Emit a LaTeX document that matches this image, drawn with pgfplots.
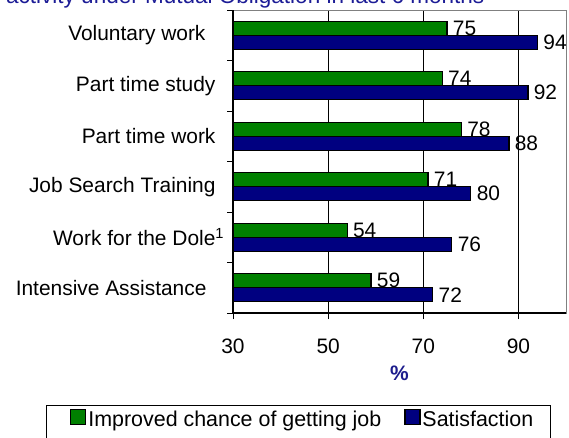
\documentclass[border=0pt]{standalone}
\usepackage{fontspec}
\setmainfont{Liberation Sans}
\usepackage{pgfplots}
\pgfplotsset{compat=1.18}
\definecolor{barG}{RGB}{0,128,0}
\definecolor{barB}{RGB}{0,0,128}
\definecolor{titleblue}{RGB}{28,28,150}
\definecolor{pctblue}{RGB}{28,28,140}
\definecolor{frame}{RGB}{128,128,128}
\begin{document}
\begin{tikzpicture}
\path[use as bounding box] (0,0) rectangle (569bp,438bp);
\clip (0,0) rectangle (569bp,438bp);
\node[anchor=base west, inner sep=0pt, font=\fontsize{22.6}{26}\selectfont, text=titleblue] at (6bp,434bp) {activity under Mutual Obligation in last 6 months};
\begin{axis}[
  at={(233bp,125bp)}, anchor=south west,
  width=333bp, height=303bp, scale only axis,
  xbar,
  xmin=30, xmax=100, ymin=0.5, ymax=6.5,
  xtick={30,50,70,90},
  ytick={1,2,3,4,5,6},
  yticklabels={Intensive Assistance\rule{9bp}{0pt}, Work for the Dole\makebox[0pt][l]{\textsuperscript{1}}, Job Search Training, Part time work, Part time study, Voluntary work\rule{10bp}{0pt}},
  minor ytick={0.5,1.5,2.5,3.5,4.5,5.5,6.5},
  xtick pos=bottom, ytick pos=left,
  tick align=outside,
  major tick length=6bp, minor tick length=6bp,
  every major y tick/.append style={draw=none},
  tick style={black, line width=1bp},
  xmajorgrids, grid style={black, line width=0.9bp},
  axis line style={frame, line width=1bp},
  clip=false,
  /pgf/number format/assume math mode=true,
  tick label style={font=\fontsize{21}{25}\selectfont},
  yticklabel style={xshift=-8bp},
  xticklabel style={yshift=-16bp},
  xlabel={\textbf{\%}},
  xlabel style={at={(axis description cs:0.5,-0.198)}, anchor=center, font=\fontsize{21}{25}\selectfont, text=pctblue},
  bar width=14bp,
  nodes near coords,
  every node near coord/.append style={font=\fontsize{21}{25}\selectfont, black, anchor=west, xshift=2bp},
  legend image code/.code={\draw[#1] (0bp,-5bp) rectangle (15bp,10bp);},
  legend columns=2,
  legend style={draw=none, fill=none, inner sep=0pt, font=\fontsize{21.5}{25}\selectfont,
    at={(axis description cs:-0.4895,-0.352)}, anchor=west,
    /tikz/every even column/.append style={column sep=21bp}},
]
\addplot[draw=black, line width=1.2bp, fill=barG, bar shift=7bp] coordinates {
  (59,1) (54,2) (71,3) (78,4) (74,5) (75,6)};
\addlegendentry{Improved chance of getting job}
\addplot[draw=black, line width=1.2bp, fill=barB, bar shift=-7bp] coordinates {
  (72,1) (76,2) (80,3) (88,4) (92,5) (94,6)};
\addlegendentry{Satisfaction}
\draw[black, line width=1.3bp] (rel axis cs:0,1) -- (rel axis cs:0,0) -- (rel axis cs:1,0);
\end{axis}
\draw[black, line width=1bp] (46bp,32bp) rectangle (550bp,-20bp);
\end{tikzpicture}
\end{document}
